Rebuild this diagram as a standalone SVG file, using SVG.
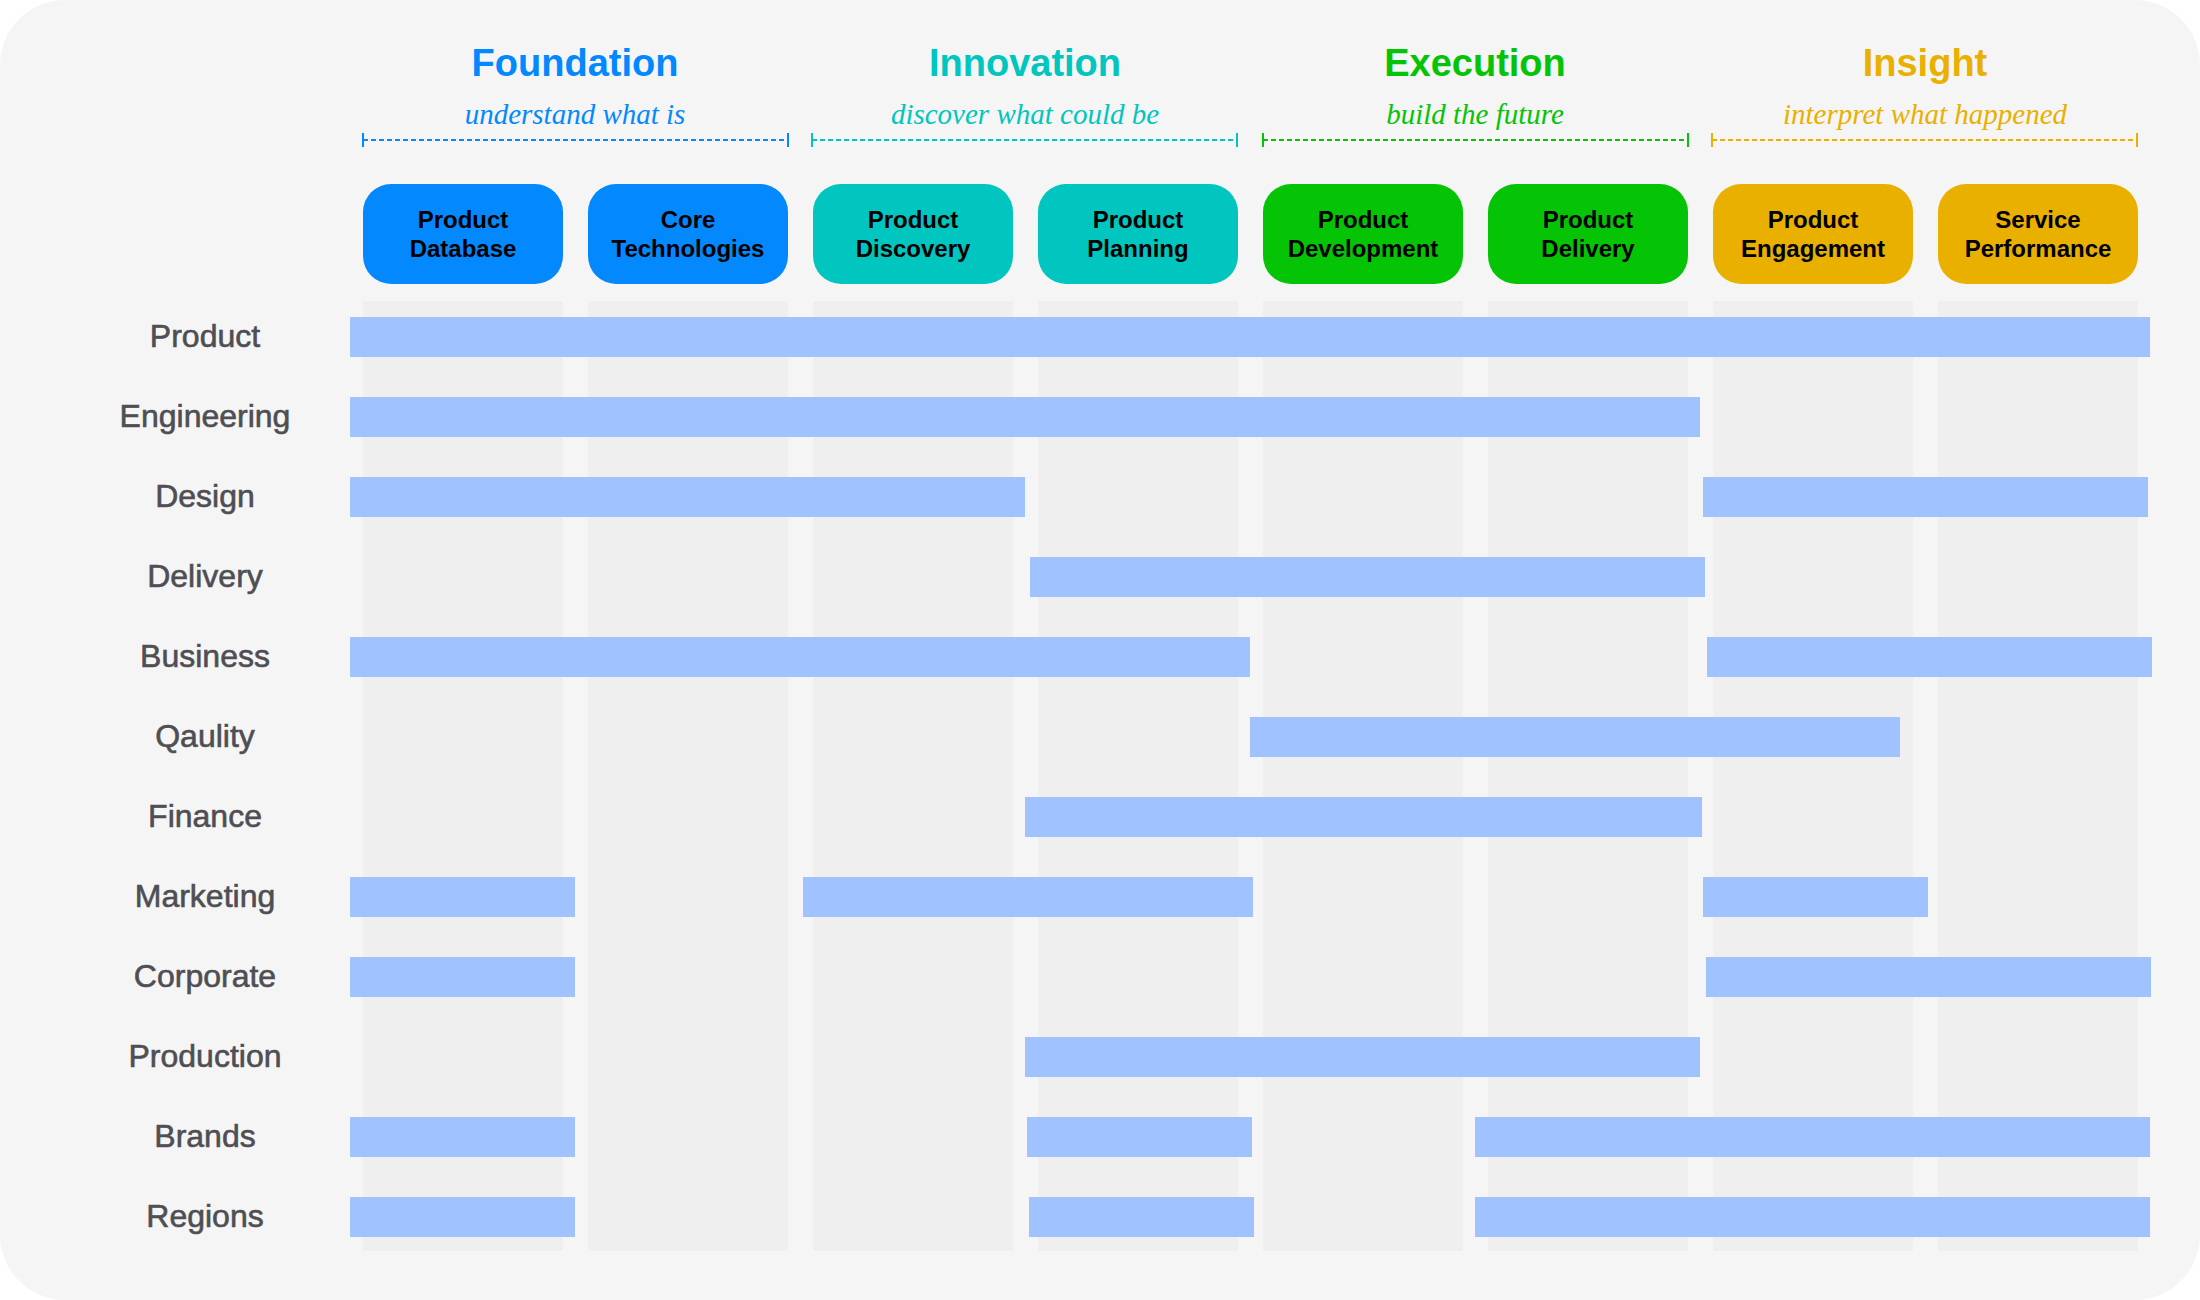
<svg xmlns="http://www.w3.org/2000/svg" width="2200" height="1300" viewBox="0 0 2200 1300">
<style>
.h{font-family:"Liberation Sans",Arial,sans-serif;font-weight:bold;font-size:38px;text-anchor:middle}
.s{font-family:"Liberation Serif","Times New Roman",serif;font-style:italic;font-size:29px;text-anchor:middle}
.n{font-family:"Liberation Sans",Arial,sans-serif;font-weight:bold;font-size:24px;text-anchor:middle;fill:#000}
.l{font-family:"Liberation Sans",Arial,sans-serif;font-size:32px;text-anchor:middle;fill:#4e4e53;stroke:#4e4e53;stroke-width:0.6}
.stripe{fill:#efefef}
.bar{fill:#a0c3ff}
.br{fill:none;stroke-width:2;stroke-dasharray:5 3}
.tk{fill:none;stroke-width:2}
.blue{fill:#0488fe}.teal{fill:#00c6bf}.green{fill:#05c405}.gold{fill:#e9b000}
</style>
<rect x="0" y="0" width="2200" height="1300" fill="#ffffff"/>
<rect x="0" y="0" width="2200" height="1300" rx="65" ry="65" fill="#f5f5f5"/>
<g id="stripes">
<rect class="stripe" x="363" y="301" width="200" height="950"/>
<rect class="stripe" x="588" y="301" width="200" height="950"/>
<rect class="stripe" x="813" y="301" width="200" height="950"/>
<rect class="stripe" x="1038" y="301" width="200" height="950"/>
<rect class="stripe" x="1263" y="301" width="200" height="950"/>
<rect class="stripe" x="1488" y="301" width="200" height="950"/>
<rect class="stripe" x="1713" y="301" width="200" height="950"/>
<rect class="stripe" x="1938" y="301" width="200" height="950"/>
</g>
<g id="headings">
<text class="h blue" x="575" y="76">Foundation</text>
<text class="s blue" x="575" y="124">understand what is</text>
<text class="h teal" x="1025" y="76">Innovation</text>
<text class="s teal" x="1025" y="124">discover what could be</text>
<text class="h green" x="1475" y="76">Execution</text>
<text class="s green" x="1475" y="124">build the future</text>
<text class="h gold" x="1925" y="76">Insight</text>
<text class="s gold" x="1925" y="124">interpret what happened</text>
</g>
<g id="connectors">
<g stroke="#0488fe"><line class="br" x1="363" y1="140" x2="788" y2="140"/><line class="tk" x1="363" y1="133" x2="363" y2="147"/><line class="tk" x1="788" y1="133" x2="788" y2="147"/></g>
<g stroke="#00c6bf"><line class="br" x1="812" y1="140" x2="1237" y2="140"/><line class="tk" x1="812" y1="133" x2="812" y2="147"/><line class="tk" x1="1237" y1="133" x2="1237" y2="147"/></g>
<g stroke="#05c405"><line class="br" x1="1263" y1="140" x2="1688" y2="140"/><line class="tk" x1="1263" y1="133" x2="1263" y2="147"/><line class="tk" x1="1688" y1="133" x2="1688" y2="147"/></g>
<g stroke="#e9b000"><line class="br" x1="1712" y1="140" x2="2137" y2="140"/><line class="tk" x1="1712" y1="133" x2="1712" y2="147"/><line class="tk" x1="2137" y1="133" x2="2137" y2="147"/></g>
</g>
<g id="node-product-database"><rect class="blue" x="363" y="184" width="200" height="100" rx="28"/><text class="n" x="463" y="228">Product</text><text class="n" x="463" y="257">Database</text></g>
<g id="node-core-technologies"><rect class="blue" x="588" y="184" width="200" height="100" rx="28"/><text class="n" x="688" y="228">Core</text><text class="n" x="688" y="257">Technologies</text></g>
<g id="node-product-discovery"><rect class="teal" x="813" y="184" width="200" height="100" rx="28"/><text class="n" x="913" y="228">Product</text><text class="n" x="913" y="257">Discovery</text></g>
<g id="node-product-planning"><rect class="teal" x="1038" y="184" width="200" height="100" rx="28"/><text class="n" x="1138" y="228">Product</text><text class="n" x="1138" y="257">Planning</text></g>
<g id="node-product-development"><rect class="green" x="1263" y="184" width="200" height="100" rx="28"/><text class="n" x="1363" y="228">Product</text><text class="n" x="1363" y="257">Development</text></g>
<g id="node-product-delivery"><rect class="green" x="1488" y="184" width="200" height="100" rx="28"/><text class="n" x="1588" y="228">Product</text><text class="n" x="1588" y="257">Delivery</text></g>
<g id="node-product-engagement"><rect class="gold" x="1713" y="184" width="200" height="100" rx="28"/><text class="n" x="1813" y="228">Product</text><text class="n" x="1813" y="257">Engagement</text></g>
<g id="node-service-performance"><rect class="gold" x="1938" y="184" width="200" height="100" rx="28"/><text class="n" x="2038" y="228">Service</text><text class="n" x="2038" y="257">Performance</text></g>
<g id="row-labels">
<text class="l" x="205" y="347">Product</text>
<text class="l" x="205" y="427">Engineering</text>
<text class="l" x="205" y="507">Design</text>
<text class="l" x="205" y="587">Delivery</text>
<text class="l" x="205" y="667">Business</text>
<text class="l" x="205" y="747">Qaulity</text>
<text class="l" x="205" y="827">Finance</text>
<text class="l" x="205" y="907">Marketing</text>
<text class="l" x="205" y="987">Corporate</text>
<text class="l" x="205" y="1067">Production</text>
<text class="l" x="205" y="1147">Brands</text>
<text class="l" x="205" y="1227">Regions</text>
</g>
<g id="bars">
<rect class="bar" x="350" y="317" width="1800" height="40"/>
<rect class="bar" x="350" y="397" width="1350" height="40"/>
<rect class="bar" x="350" y="477" width="675" height="40"/>
<rect class="bar" x="1703" y="477" width="445" height="40"/>
<rect class="bar" x="1030" y="557" width="675" height="40"/>
<rect class="bar" x="350" y="637" width="900" height="40"/>
<rect class="bar" x="1707" y="637" width="445" height="40"/>
<rect class="bar" x="1250" y="717" width="650" height="40"/>
<rect class="bar" x="1025" y="797" width="677" height="40"/>
<rect class="bar" x="350" y="877" width="225" height="40"/>
<rect class="bar" x="803" y="877" width="450" height="40"/>
<rect class="bar" x="1703" y="877" width="225" height="40"/>
<rect class="bar" x="350" y="957" width="225" height="40"/>
<rect class="bar" x="1706" y="957" width="445" height="40"/>
<rect class="bar" x="1025" y="1037" width="675" height="40"/>
<rect class="bar" x="350" y="1117" width="225" height="40"/>
<rect class="bar" x="1027" y="1117" width="225" height="40"/>
<rect class="bar" x="1475" y="1117" width="675" height="40"/>
<rect class="bar" x="350" y="1197" width="225" height="40"/>
<rect class="bar" x="1029" y="1197" width="225" height="40"/>
<rect class="bar" x="1475" y="1197" width="675" height="40"/>
</g>
</svg>
